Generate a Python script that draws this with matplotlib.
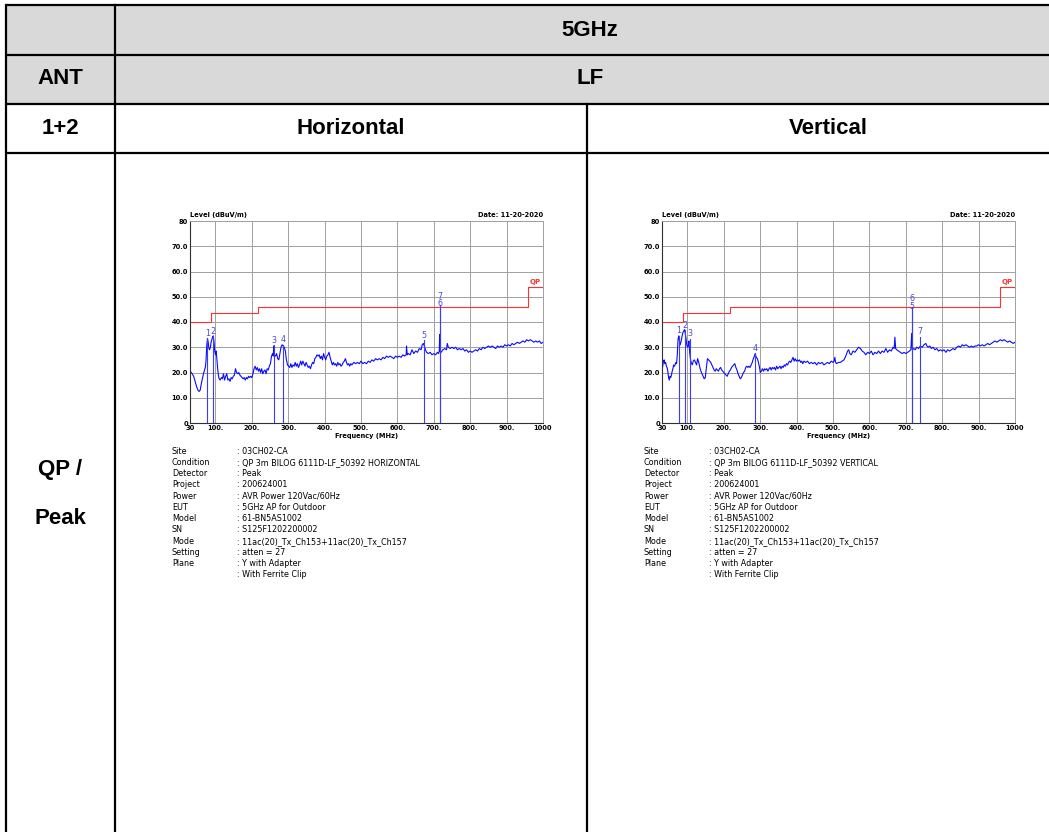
import matplotlib
matplotlib.use("Agg")
import matplotlib.pyplot as plt
from matplotlib.patches import Rectangle

# ---------------------------------------------
# Spectrum traces (MHz, dBuV/m)
# ---------------------------------------------
h_freq = [30, 33, 36, 40, 43, 46, 49, 52, 55, 58, 61, 64, 67, 70, 72, 74, 76, 78, 80, 82,
          84, 86, 88, 90, 92, 94, 96, 98, 100, 102, 104, 106, 108, 110, 113, 116, 119, 122, 125, 128,
          131, 134, 137, 140, 143, 146, 149, 152, 155, 158, 161, 164, 167, 170, 173, 176, 179, 182, 185, 188,
          191, 194, 197, 200, 203, 206, 209, 212, 215, 218, 221, 224, 227, 230, 233, 236, 239, 242, 245, 248,
          251, 254, 257, 259, 260, 262, 265, 268, 271, 274, 277, 280, 283, 286, 289, 292, 295, 298, 301, 304,
          307, 310, 313, 316, 319, 322, 325, 328, 331, 334, 337, 340, 343, 346, 349, 352, 355, 358, 361, 364,
          367, 370, 373, 376, 379, 382, 385, 388, 391, 394, 397, 400, 403, 406, 409, 412, 415, 418, 421, 424,
          427, 430, 433, 436, 439, 442, 445, 448, 451, 454, 457, 460, 463, 466, 469, 472, 475, 480, 485, 490,
          495, 500, 505, 510, 515, 520, 525, 530, 535, 540, 545, 550, 555, 560, 565, 570, 575, 580, 585, 590,
          595, 600, 605, 610, 615, 620, 624, 625, 627, 630, 635, 640, 645, 650, 655, 660, 665, 668, 671, 674,
          677, 680, 685, 690, 695, 700, 705, 710, 713, 715, 716, 717, 720, 725, 730, 735, 737, 740, 745, 750,
          755, 760, 765, 770, 775, 780, 785, 790, 795, 800, 805, 810, 815, 820, 825, 830, 835, 840, 845, 850,
          855, 860, 865, 870, 875, 880, 885, 890, 895, 900, 905, 910, 915, 920, 925, 930, 935, 940, 945, 950,
          955, 960, 965, 970, 975, 980, 985, 990, 995, 1000]
h_level = [21.0, 20.0, 19.5, 18.5, 17.0, 15.5, 14.0, 13.0, 12.5, 13.0, 15.5, 17.5, 19.5, 21.0, 22.0, 24.5, 30.5, 33.5, 32.0, 29.5,
           29.0, 30.0, 32.0, 33.0, 34.0, 34.5, 32.0, 28.5, 27.0, 28.5, 25.0, 21.5, 19.0, 17.5, 17.0, 18.0, 17.5, 19.5, 17.0, 18.5,
           19.5, 17.0, 17.5, 16.5, 18.0, 17.5, 18.5, 19.0, 21.5, 20.0, 19.5, 20.0, 19.0, 18.5, 18.0, 17.5, 18.0, 17.0, 18.0, 17.5,
           18.5, 18.0, 18.5, 18.0, 19.5, 21.5, 22.5, 21.0, 22.0, 20.5, 21.5, 20.0, 21.5, 19.5, 20.5, 21.0, 19.5, 21.5, 21.0, 22.5,
           23.5, 26.5, 27.5, 26.5, 30.5, 27.0, 26.5, 27.5, 25.5, 25.0, 27.5, 30.0, 31.0, 30.5, 30.0, 28.5, 25.0, 23.0, 22.5, 22.0,
           23.5, 22.0, 23.0, 22.5, 24.0, 22.5, 23.5, 22.0, 23.0, 24.5, 23.0, 24.5, 23.5, 22.5, 24.0, 23.0, 22.0, 22.5, 21.5, 23.0,
           24.0, 23.5, 25.5, 26.0, 27.0, 26.5, 27.0, 25.5, 26.5, 25.0, 27.5, 26.0, 25.0, 26.5, 27.0, 28.0, 26.0, 24.5, 23.0, 24.0,
           23.0, 23.5, 22.5, 24.0, 23.0, 23.5, 22.5, 23.0, 24.0, 24.5, 25.5, 24.0, 23.0, 23.5, 22.5, 23.5, 23.0, 24.0, 23.5, 24.0,
           23.5, 24.5, 23.5, 24.0, 23.5, 24.5, 24.0, 25.0, 24.5, 25.5, 25.0, 25.5, 25.0, 26.0, 25.5, 26.5, 26.0, 26.5, 26.0, 25.5,
           26.5, 26.0, 26.5, 26.0, 27.0, 26.5, 27.0, 30.5, 27.0, 27.5, 27.0, 29.0, 27.5, 28.5, 28.0, 29.5, 29.0, 31.0, 31.5, 30.5,
           29.0, 28.0, 27.5, 28.0, 27.0, 27.5, 27.0, 28.0, 27.5, 28.5, 35.0, 28.5, 28.0, 29.0, 29.5, 29.0, 31.5, 30.0, 29.5, 30.0,
           29.5, 30.0, 29.0, 29.5, 29.0, 29.5, 28.5, 29.0, 28.0, 28.5, 28.0, 28.5, 29.0, 28.5, 29.5, 29.0, 30.0, 29.5, 30.0, 30.5,
           30.0, 30.5, 30.0, 29.5, 30.5, 30.0, 30.5, 30.0, 31.0, 30.5, 31.0, 30.5, 31.5, 31.0, 31.5, 32.0, 31.5, 32.0, 32.5, 32.0,
           33.0, 32.5, 33.0, 32.5, 32.0, 32.5, 32.0, 32.5, 31.5, 32.0]

v_freq = [30, 32, 34, 36, 38, 40, 42, 44, 46, 48, 50, 52, 54, 56, 58, 60, 62, 64, 66, 68,
          70, 72, 74, 76, 78, 80, 82, 84, 86, 88, 90, 92, 94, 96, 98, 100, 102, 104, 106, 108,
          110, 113, 116, 119, 122, 125, 128, 131, 134, 137, 140, 143, 146, 149, 152, 155, 158, 161, 164, 167,
          170, 173, 176, 179, 182, 185, 188, 191, 194, 197, 200, 203, 206, 209, 212, 215, 218, 221, 224, 227,
          230, 233, 236, 239, 242, 245, 248, 251, 254, 257, 260, 263, 266, 269, 272, 275, 278, 281, 284, 286,
          289, 292, 295, 298, 300, 303, 306, 309, 312, 315, 318, 321, 324, 327, 330, 333, 336, 339, 342, 345,
          348, 351, 354, 357, 360, 363, 366, 369, 372, 375, 378, 381, 384, 387, 390, 393, 396, 399, 402, 405,
          408, 411, 414, 417, 420, 425, 430, 435, 440, 445, 450, 455, 460, 465, 470, 475, 480, 485, 490, 495,
          500, 503, 505, 507, 510, 515, 520, 525, 530, 535, 540, 543, 546, 550, 555, 560, 565, 570, 575, 580,
          585, 590, 595, 600, 605, 610, 615, 620, 625, 630, 635, 640, 645, 650, 655, 660, 665, 668, 670, 672,
          675, 680, 685, 690, 695, 700, 705, 710, 714, 716, 718, 722, 726, 730, 735, 740, 745, 750, 755, 758,
          762, 766, 770, 775, 780, 785, 790, 795, 800, 805, 810, 815, 820, 825, 830, 835, 840, 845, 850, 855,
          860, 865, 870, 875, 880, 885, 890, 895, 900, 905, 910, 915, 920, 925, 930, 935, 940, 945, 950, 955,
          960, 965, 970, 975, 980, 985, 990, 995, 1000]
v_level = [21.0, 22.5, 24.5, 25.0, 23.5, 24.0, 22.5, 22.0, 20.5, 18.0, 17.0, 18.5, 18.0, 19.0, 20.5, 21.5, 23.0, 22.5, 23.0, 24.0,
           23.5, 27.0, 33.0, 34.5, 32.5, 31.0, 32.0, 33.5, 35.0, 36.0, 36.5, 37.0, 35.5, 33.5, 31.0, 30.0, 30.5, 32.5, 28.0, 25.5,
           24.0, 23.0, 24.5, 25.0, 24.0, 23.0, 25.5, 24.0, 22.0, 20.5, 19.5, 18.5, 17.5, 18.0, 22.0, 25.5, 25.0, 24.5, 24.0, 23.0,
           22.0, 21.0, 20.5, 21.5, 21.0, 20.5, 21.5, 22.0, 21.0, 20.5, 20.0, 19.5, 19.0, 18.5, 19.5, 20.5, 21.0, 22.0, 22.5, 23.0,
           23.5, 22.0, 21.0, 19.5, 18.5, 17.5, 18.0, 19.0, 20.0, 20.5, 22.0, 22.5, 22.0, 22.5, 22.0, 23.0, 24.0, 25.5, 26.5, 27.5,
           26.0, 25.5, 24.0, 22.0, 20.0, 20.5, 21.5, 20.5, 21.5, 21.0, 21.5, 20.5, 21.5, 22.0, 21.0, 22.0, 21.5, 22.0, 21.0, 22.5,
           21.5, 22.0, 22.5, 21.5, 22.5, 22.0, 23.0, 22.5, 23.5, 23.0, 24.0, 24.5, 24.0, 25.0, 26.0, 24.5, 25.5, 24.5, 25.0, 24.5,
           25.0, 24.0, 24.5, 23.5, 24.5, 24.0, 24.5, 23.5, 24.0, 23.5, 24.0, 23.0, 24.0, 23.5, 24.0, 23.0, 23.5, 24.0, 23.5, 24.5,
           24.0, 24.5, 26.0, 24.0, 23.5, 24.0, 24.0, 24.5, 25.0, 26.5, 28.5, 29.0, 27.5, 27.0, 28.5, 28.0, 29.0, 30.0, 29.5, 28.5,
           28.0, 27.0, 28.0, 27.5, 28.5, 27.0, 28.0, 27.5, 28.5, 27.5, 28.5, 28.0, 29.5, 28.0, 29.0, 28.5, 30.0, 29.5, 34.0, 29.5,
           29.0, 28.5, 28.0, 27.5, 28.0, 27.5, 28.0, 28.5, 29.0, 35.5, 29.0, 29.5, 29.0, 30.0, 29.5, 30.5, 30.0, 31.0, 31.5, 30.5,
           30.0, 30.5, 29.5, 30.0, 29.0, 29.5, 28.5, 29.0, 28.5, 29.0, 28.0, 29.0, 28.5, 29.0, 29.5, 29.0, 30.0, 30.5, 30.0, 31.0,
           30.5, 31.0, 30.5, 30.0, 30.5, 30.0, 30.5, 30.5, 31.0, 30.5, 31.0, 30.5, 31.0, 31.5, 31.0, 31.5, 32.0, 32.5, 32.0, 32.5,
           33.0, 32.5, 33.0, 32.5, 32.0, 32.5, 32.0, 31.5, 32.0]

# QP limit steps
qp_freq = [30, 88, 88, 216, 216, 960, 960, 1000]
qp_level = [40.0, 40.0, 43.5, 43.5, 46.0, 46.0, 54.0, 54.0]

# marker number, frequency, level
h_markers = [(1, 77.7, 33.5), (2, 94.2, 34.4), (3, 260.0, 30.8), (4, 285.8, 31.0),
             (5, 672.7, 32.7), (6, 715.8, 45.3), (7, 716.3, 46.6)]
v_markers = [(1, 76.6, 34.5), (2, 93.1, 36.8), (3, 106.8, 33.4), (4, 285.0, 27.6),
             (5, 716.6, 44.3), (6, 716.6, 45.9), (7, 739.4, 34.2)]

info_keys = ["Site", "Condition", "Detector", "Project", "Power", "EUT",
             "Model", "SN", "Mode", "Setting", "Plane", ""]
h_info = [": 03CH02-CA", ": QP 3m BILOG 6111D-LF_50392 HORIZONTAL", ": Peak", ": 200624001",
          ": AVR Power 120Vac/60Hz", ": 5GHz AP for Outdoor", ": 61-BN5AS1002", ": S125F1202200002",
          ": 11ac(20)_Tx_Ch153+11ac(20)_Tx_Ch157", ": atten = 27", ": Y with Adapter", ": With Ferrite Clip"]
v_info = list(h_info)
v_info[1] = ": QP 3m BILOG 6111D-LF_50392 VERTICAL"

x_ticks = [30, 100, 200, 300, 400, 500, 600, 700, 800, 900, 1000]
x_labels = ["30", "100.", "200.", "300.", "400.", "500.", "600.", "700.", "800.", "900.", "1000"]
y_ticks = [0, 10, 20, 30, 40, 50, 60, 70, 80]
y_labels = ["0", "10.0", "20.0", "30.0", "40.0", "50.0", "60.0", "70.0", "80"]

W, H = 1049, 832
fig = plt.figure(figsize=(W / 100, H / 100), dpi=100)
fig.patch.set_facecolor("white")

# table drawn in pixel coordinates
tb = fig.add_axes([0, 0, 1, 1])
tb.set_xlim(0, W)
tb.set_ylim(H, 0)
tb.axis("off")

GREY = "#d9d9d9"
tb.add_patch(Rectangle((6, 5), W - 6, 98.5, facecolor=GREY, edgecolor="none"))
lw = 1.6
for y in [5, 54.5, 103.5, 152.7]:
    tb.plot([6, W], [y, y], color="black", lw=lw, solid_capstyle="butt")
tb.plot([6, 6], [5, H], color="black", lw=lw)
tb.plot([115, 115], [5, H], color="black", lw=lw)
tb.plot([587, 587], [103.5, H], color="black", lw=lw)

hfont = dict(family="Liberation Sans", weight="bold", fontsize=16, ha="center", va="center")
tb.text(590, 30, "5GHz", **hfont)
tb.text(60, 79, "ANT", **hfont)
tb.text(590, 79, "LF", **hfont)
tb.text(60, 128, "1+2", **hfont)
tb.text(351, 128, "Horizontal", **hfont)
tb.text(828, 128, "Vertical", **hfont)
tb.text(60, 469, "QP /", **hfont)
tb.text(60, 518, "Peak", **hfont)


def draw_emi(x0, freq, level, markers, info):
    ax = fig.add_axes([x0 / W, 1 - 423 / H, 353 / W, 202 / H])
    ax.set_xlim(30, 1000)
    ax.set_ylim(0, 80)
    ax.grid(True, color="#a0a0a0", lw=0.7)
    ax.set_axisbelow(True)
    for s in ["top", "right"]:
        ax.spines[s].set_color("#a0a0a0")
        ax.spines[s].set_linewidth(0.7)
    for s in ["left", "bottom"]:
        ax.spines[s].set_color("#303030")
        ax.spines[s].set_linewidth(0.8)
    ax.set_xticks(x_ticks)
    ax.set_xticklabels(x_labels)
    ax.set_yticks(y_ticks)
    ax.set_yticklabels(y_labels)
    ax.tick_params(length=0, labelsize=4.8, pad=1.5)
    for lab in ax.get_xticklabels() + ax.get_yticklabels():
        lab.set_fontweight("bold")
    ax.set_xlabel("Frequency (MHz)", fontsize=4.8, fontweight="bold", labelpad=1.5)

    ax.plot(qp_freq, qp_level, color="#ff3030", lw=0.8)
    ax.text(995, 54.6, "QP", color="#ff3030", fontsize=5, fontweight="bold",
            ha="right", va="bottom")
    ax.plot(freq, level, color="#0a0aff", lw=0.8)

    # marker lines with their numbers; labels of coincident markers are stacked
    prev_f, prev_top = None, None
    for num, f, lv in markers:
        ax.plot([f, f], [0, lv], color="#3c3cf5", lw=0.8)
        y_lab = lv + 0.2
        if prev_f is not None and abs(f - prev_f) < 3:
            y_lab = max(y_lab, prev_top)
        ax.text(f, y_lab, str(num), color="#4848e0", fontsize=5.8,
                ha="center", va="bottom")
        prev_f, prev_top = f, y_lab + 3.0

    ax.text(0.0, 1.015, "Level (dBuV/m)", transform=ax.transAxes, fontsize=4.8,
            fontweight="bold", ha="left", va="bottom")
    ax.text(1.0, 1.015, "Date: 11-20-2020", transform=ax.transAxes, fontsize=4.8,
            fontweight="bold", ha="right", va="bottom")

    # test setup block below the chart
    y = 451
    for key, val in zip(info_keys, info):
        tb.text(x0 - 18, y, key, fontsize=5.8, ha="left", va="center", family="DejaVu Sans")
        tb.text(x0 + 47, y, val, fontsize=5.8, ha="left", va="center", family="DejaVu Sans")
        y += 11.27


draw_emi(190, h_freq, h_level, h_markers, h_info)
draw_emi(662, v_freq, v_level, v_markers, v_info)

fig.savefig("out.png", dpi=100)
